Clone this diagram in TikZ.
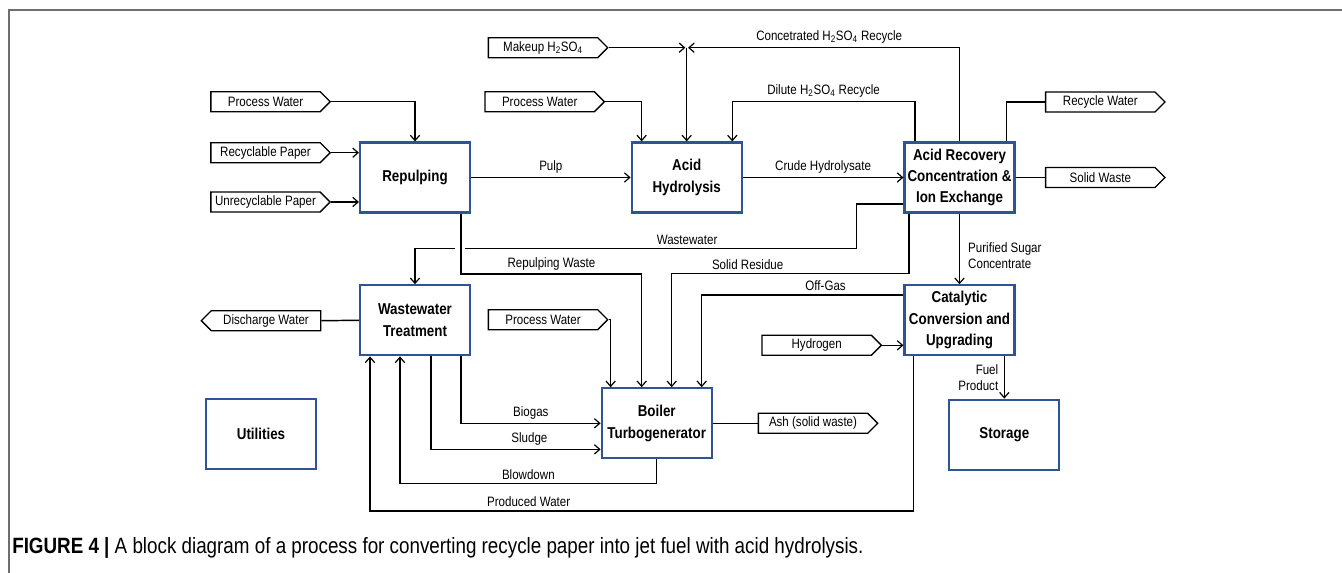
\documentclass[tikz,border=0pt]{standalone}
\usepackage{fontspec}
\setmainfont{Liberation Sans}[FakeStretch=0.85]
\usetikzlibrary{arrows.meta,calc,shapes.symbols}
\definecolor{unitblue}{RGB}{47,84,150}
\definecolor{framegray}{RGB}{110,110,110}

\begin{document}
\begin{tikzpicture}[x=0.75pt,y=-0.75pt,
   unitbox/.style={draw=unitblue,line width=1.6pt,fill=white,
     minimum width=82.5pt,minimum height=52.5pt,inner sep=1pt,
     align=center,font=\fontsize{11.8}{16}\selectfont\bfseries},
   streamtag/.style={draw,line width=1pt,signal,signal to=east,
     signal pointer angle=90,minimum width=89.5pt,minimum height=15pt,
     inner sep=0pt,font=\fontsize{10.2}{12}\selectfont},
   flow/.style={line width=1.1pt,-{Straight Barb[length=4pt,width=7pt,line width=0.9pt]}},
   link/.style={line width=1.1pt},
   flowlabel/.style={font=\fontsize{10.2}{12}\selectfont,inner sep=2.5pt}]
\useasboundingbox (0,0) rectangle (1342,573);
\draw[framegray,line width=1pt] (9,573) -- (9,10) -- (1342,10);

% process units
\node[unitbox] (rep)  at (415,177.5)   {Repulping};
\node[unitbox] (ah)   at (686.7,177.5) {Acid\\Hydrolysis};
\node[unitbox] (ar)   at (959.5,177.5) {Acid Recovery\\Concentration \&\\Ion Exchange};
\node[unitbox] (wwt)  at (415,320.3)   {Wastewater\\Treatment};
\node[unitbox] (util) at (261,434.3)   {Utilities};
\node[unitbox] (btg)  at (656.7,423.3) {Boiler\\Turbogenerator};
\node[unitbox] (ccu)  at (959.5,320.3) {Catalytic\\Conversion and\\Upgrading};
\node[unitbox] (stor) at (1004.3,434.7) {Storage};

% feed and product tags
\node[streamtag] (pw1) at (265.5,101.7) {Process Water};
\node[streamtag] (rcp) at (265.5,152.7) {Recyclable Paper};
\node[streamtag] (urp) at (265.5,202)   {Unrecyclable Paper};
\node[streamtag] (mk)  at (543,47.7)    {Makeup H\textsubscript{2}SO\textsubscript{4}};
\node[streamtag] (pw2) at (539.7,101.7) {Process Water};
\node[streamtag] (rw)  at (1100.3,102)  {Recycle Water};
\node[streamtag] (sw)  at (1100.3,177.5) {Solid Waste};
\node[streamtag,signal to=west] (dw) at (266,320.7) {Discharge Water};
\node[streamtag] (pw3) at (543,319.7)   {Process Water};
\node[streamtag] (h2)  at (816.7,345.3) {Hydrogen};
\node[streamtag] (ash) at (813,423.3)   {Ash (solid waste)};

% corners
\coordinate (acidmix) at (686.7,47.7);
\coordinate (dilcorner) at (732.3,101.7);
\coordinate (wwcorner) at (856.7,248.5);
\coordinate (wwjump) at (460,248.5);
\coordinate (rwcorner) at (641.7,274);
\coordinate (srcorner) at (671.7,273.5);
\coordinate (ogcorner) at (701.7,295);
\coordinate (prodcorner) at (370,511);
\coordinate (blowcorner) at (400,483.3);

% repulping and hydrolysis
\draw[flow] (pw1.east) -| (rep.north);
\draw[flow] (rcp.east) -- (rcp.east -| rep.west);
\draw[flow] (urp.east) -- (urp.east -| rep.west);
\draw[flow] (rep.east) -- node[flowlabel,above] {Pulp} (ah.west);
\draw[flow] (mk.east) -- ([xshift=-1pt]acidmix);
\draw[flow] (ar.north) |- node[flowlabel,above,pos=0.74] {Concetrated H\textsubscript{2}SO\textsubscript{4} Recycle} ([xshift=1pt]acidmix);
\draw[flow] (acidmix) -- (ah.north);
\draw[flow] (pw2.east) -| ($(ah.north west)+(11,0)$);
\draw[flow] ($(ar.north west)+(11.4,0)$) |- node[flowlabel,above,pos=0.75] {Dilute H\textsubscript{2}SO\textsubscript{4} Recycle} (dilcorner) -- (dilcorner |- ah.north);
\draw[flow] (ah.east) -- node[flowlabel,above] {Crude Hydrolysate} (ar.west);
\draw[link] ($(ar.north east)+(-9,0)$) |- (rw.west);
\draw[link] (ar.east) -- (sw.west);

% waste streams
\draw[link] ($(ar.south west)+(0,-9.6)$) -| (wwcorner) -- node[flowlabel,above,pos=0.433] {Wastewater} ($(wwjump)+(5,0)$);
\draw[flow] ($(wwjump)+(-5,0)$) -| (wwt.north);
\draw[flow] ($(rep.south east)+(-10,0)$) |- node[flowlabel,above,pos=0.75] {Repulping Waste} (rwcorner) -- (rwcorner |- btg.north);
\draw[flow] ($(ar.south west)+(5.7,0)$) |- node[flowlabel,above,pos=0.84] {Solid Residue} (srcorner) -- (srcorner |- btg.north);
\draw[flow] (ogcorner -| ccu.west) -- node[flowlabel,above,pos=0.386] {Off-Gas} (ogcorner) -- (ogcorner |- btg.north);
\draw[flow] (pw3.east) -| ($(btg.north west)+(10,0)$);

% sugar to fuel
\draw[flow] (ar.south) -- node[flowlabel,right,align=left,inner sep=6pt,pos=0.6] {Purified Sugar\\Concentrate} (ccu.north);
\draw[flow] (h2.east) -- (h2.east -| ccu.west);
\draw[flow] (stor.north |- ccu.south) -- node[flowlabel,left,align=right,inner sep=4pt] {Fuel\\Product} (stor.north);

% water loop
\draw[flow] ($(ccu.south west)+(10,0)$) |- node[flowlabel,above,pos=0.854] {Produced Water} (prodcorner) -- (prodcorner |- wwt.south);
\draw[flow] (btg.south) |- node[flowlabel,above,pos=0.75] {Blowdown} (blowcorner) -- (blowcorner |- wwt.south);
\draw[flow] ($(wwt.south east)+(-10,0)$) |- node[flowlabel,above,pos=0.75] {Biogas} (btg.west);
\draw[flow] ($(wwt.south east)+(-40,0)$) |- node[flowlabel,above,pos=0.79] {Sludge} ($(btg.south west)+(0,-10)$);
\draw[link] (wwt.west) -- (dw.east);
\draw[link] (btg.east) -- (ash.west);

\node[anchor=west,inner sep=0pt,font=\fontsize{16.6}{19}\selectfont] (caption) at (12,548)
  {\textbf{FIGURE 4 |} A block diagram of a process for converting recycle paper into jet fuel with acid hydrolysis.};
\end{tikzpicture}
\end{document}
